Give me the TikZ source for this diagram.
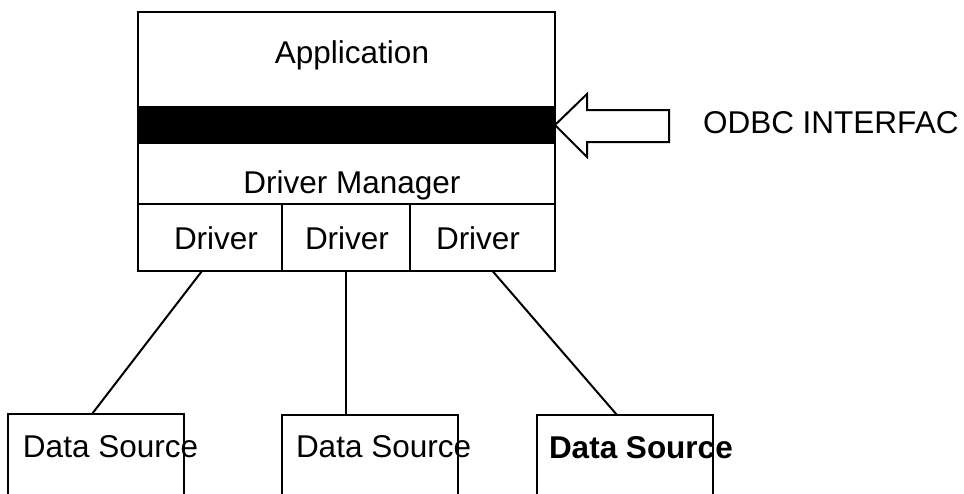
\documentclass[tikz,border=0pt]{standalone}
\usepackage{fontspec}
\setmainfont{Liberation Sans}
\usetikzlibrary{positioning}
\begin{document}
\begin{tikzpicture}[x=1pt,y=-1pt,line width=2pt,
    layer/.style={draw,minimum width=417pt,inner sep=0pt,outer sep=0pt,anchor=north west},
    drvbox/.style={draw,minimum height=67pt,inner sep=0pt,outer sep=0pt},
    dsbox/.style={draw,minimum width=176pt,minimum height=120pt,inner sep=0pt,outer sep=0pt,anchor=north west},
    txt/.style={inner sep=0pt,font=\fontsize{31.5}{36}\selectfont}]
    \useasboundingbox (0,0) rectangle (964,493);
    \clip (0,0) rectangle (964,493);

    % driver stack
    \node[layer,minimum height=95pt] (app) at (138,12) {};
    \node[layer,minimum height=36pt,fill=black,below=0pt of app] (bar) {};
    \node[layer,minimum height=61pt,below=0pt of bar] (mgr) {};
    \node[drvbox,minimum width=144pt,anchor=north west] (drv1) at (mgr.south west) {};
    \node[drvbox,minimum width=128pt,right=0pt of drv1] (drv2) {};
    \node[drvbox,minimum width=145pt,right=0pt of drv2] (drv3) {};

    \node[txt,anchor=base] (applbl) at (352,63) {Application};
    \node[txt,anchor=base] (mgrlbl) at (352,193) {Driver Manager};
    \node[txt,anchor=base] (drv1lbl) at (216,249) {Driver};
    \node[txt,anchor=base] (drv2lbl) at (347,249) {Driver};
    \node[txt,anchor=base] (drv3lbl) at (478,249) {Driver};

    % interface arrow
    \draw[fill=white] (bar.east) -- ++(32,-31) -- ++(0,16) -- ++(82,0) -- ++(0,32)
        -- ++(-82,0) -- ++(0,15) -- cycle;
    \node[txt,anchor=base west] (odbclbl) at (702,133) {ODBC INTERFAC};

    % data sources
    \node[dsbox] (ds1) at (8,414) {};
    \node[dsbox] (ds2) at (282,415) {};
    \node[dsbox] (ds3) at (537,415) {};
    \node[txt,anchor=base west] (ds1lbl) at (22,457) {Data Source};
    \node[txt,anchor=base west] (ds2lbl) at (295,457) {Data Source};
    \node[txt,anchor=base west,font=\fontsize{31.5}{36}\selectfont\bfseries] (ds3lbl) at (548,458) {Data Source};

    \draw ([xshift=-8pt]drv1.south) -- ([xshift=-4pt]ds1.north);
    \draw (drv2.south) -- (drv2.south |- ds2.north);
    \draw ([xshift=10pt]drv3.south) -- ([xshift=-8pt]ds3.north);
\end{tikzpicture}
\end{document}
